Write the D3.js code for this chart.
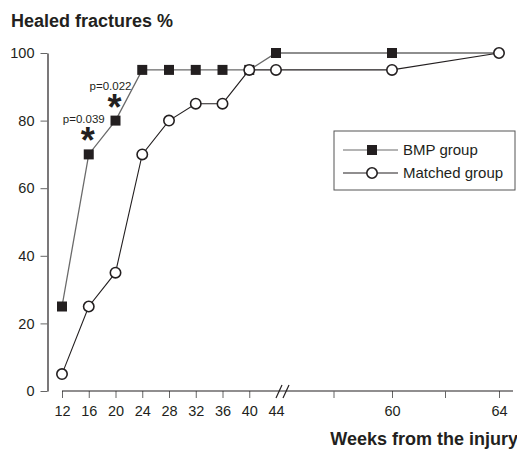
<!DOCTYPE html>
<html>
<head>
<meta charset="utf-8">
<script src="https://cdn.jsdelivr.net/npm/d3@7"></script>
<style>
  body{margin:0;background:#fff;}
  svg{display:block;font-family:"Liberation Sans",Arial,Helvetica,sans-serif;}
  text{fill:#231f20;}
</style>
</head>
<body>
<div class="chart"></div>
<script>
// weeks from injury (x axis has a break between 40 and 44)
const weeks = [12,16,20,24,28,32,36,40,44,60,64];
const bmp = [25,70,80,95,95,95,95,95,100,100,100];
const matched = [5,25,35,70,80,85,85,95,95,95,100];
const yTicks = [0,20,40,60,80,100];
const xMinor = [52,62];
const pvals = [{week:16,val:70,label:"p=0.039"},{week:20,val:80,label:"p=0.022"}];

const W = 517, H = 449;
const svg = d3.select(".chart").append("svg").attr("width",W).attr("height",H);

const x = d3.scaleLinear().domain([12,44,60,64]).range([62,276,392,499]);
const y = d3.scaleLinear().domain([0,100]).range([391,53]);

// titles
svg.append("text").attr("x",11).attr("y",27)
   .style("font-size","18px").style("font-weight","bold")
   .text("Healed fractures %");
svg.append("text").attr("x",518).attr("y",445).attr("text-anchor","end")
   .style("font-size","18px").style("font-weight","bold")
   .text("Weeks from the injury");

// y axis
const yAxis = svg.append("g").attr("transform","translate(47.5,0)")
   .call(d3.axisLeft(y).tickValues(yTicks).tickSize(7).tickPadding(6).tickSizeOuter(0));
yAxis.select(".domain").attr("stroke","#231f20").attr("stroke-width",1.2);
yAxis.selectAll(".tick line").attr("stroke","#666");
yAxis.selectAll("text").style("font-size","14.5px").attr("fill","#231f20");

// x axis
const xAxis = svg.append("g").attr("transform",`translate(0,${y(0)})`)
   .call(d3.axisBottom(x).tickValues(weeks).tickSize(7).tickPadding(8).tickSizeOuter(0));
xAxis.select(".domain").remove();
xAxis.append("line").attr("x1",x(12)).attr("x2",x(64)+14).attr("stroke","#231f20").attr("stroke-width",1.2);
xAxis.selectAll(".tick line").attr("stroke","#666").filter(d=>d===44).remove();
xAxis.selectAll("text").style("font-size","14.5px").attr("fill","#231f20");
xAxis.selectAll(".minor").data(xMinor).join("line").attr("class","minor")
   .attr("x1",d=>x(d)).attr("x2",d=>x(d)).attr("y1",0).attr("y2",7).attr("stroke","#666");
// break marks
xAxis.selectAll(".brk").data([0,7]).join("line").attr("class","brk")
   .attr("x1",d=>x(44)+d).attr("x2",d=>x(44)+d+6).attr("y1",7).attr("y2",-6)
   .attr("stroke","#231f20").attr("stroke-width",1.2);

// lines
const line = d3.line().x(d=>x(d[0])).y(d=>y(d[1]));
const bmpData = weeks.map((w,i)=>[w,bmp[i]]);
const matchedData = weeks.map((w,i)=>[w,matched[i]]);
svg.append("path").datum(bmpData).attr("d",line).attr("fill","none").attr("stroke","#6a6a6a").attr("stroke-width",1.3);
svg.append("path").datum(matchedData).attr("d",line).attr("fill","none").attr("stroke","#231f20").attr("stroke-width",1.1);

// markers (BMP end point is hidden under the matched circle)
svg.selectAll(".sq").data(bmpData.slice(0,-1)).join("rect").attr("class","sq")
   .attr("x",d=>x(d[0])-5).attr("y",d=>y(d[1])-5).attr("width",10).attr("height",10)
   .attr("fill","#231f20");
svg.selectAll(".ci").data(matchedData).join("circle").attr("class","ci")
   .attr("cx",d=>x(d[0])).attr("cy",d=>y(d[1])).attr("r",5.2)
   .attr("fill","#fff").attr("stroke","#231f20").attr("stroke-width",1.6);

// significance labels
const pg = svg.selectAll(".pv").data(pvals).join("g").attr("class","pv");
pg.append("text").attr("x",d=>x(d.week)+16).attr("y",d=>y(d.val)-31).attr("text-anchor","end")
   .style("font-size","11.5px").text(d=>d.label);
pg.append("text").attr("x",d=>x(d.week)-1).attr("y",d=>y(d.val)-1).attr("text-anchor","middle")
   .style("font-size","36px").style("font-weight","bold").text("*");

// legend
const lg = svg.append("g").attr("transform","translate(334,131)");
lg.append("rect").attr("width",181).attr("height",59).attr("fill","#fff").attr("stroke","#555").attr("stroke-width",1);
const items = [{name:"BMP group",type:"sq"},{name:"Matched group",type:"ci"}];
const li = lg.selectAll(".li").data(items).join("g").attr("class","li")
   .attr("transform",(d,i)=>`translate(0,${19+i*23})`);
li.append("line").attr("x1",9).attr("x2",64).attr("stroke",d=>d.type==="sq"?"#6a6a6a":"#231f20").attr("stroke-width",1.2);
li.filter(d=>d.type==="sq").append("rect").attr("x",33).attr("y",-5).attr("width",10).attr("height",10).attr("fill","#231f20");
li.filter(d=>d.type==="ci").append("circle").attr("cx",38).attr("r",5.2).attr("fill","#fff").attr("stroke","#231f20").attr("stroke-width",1.6);
li.append("text").attr("x",69).attr("y",5).style("font-size","15px").text(d=>d.name);
</script>
</body>
</html>
